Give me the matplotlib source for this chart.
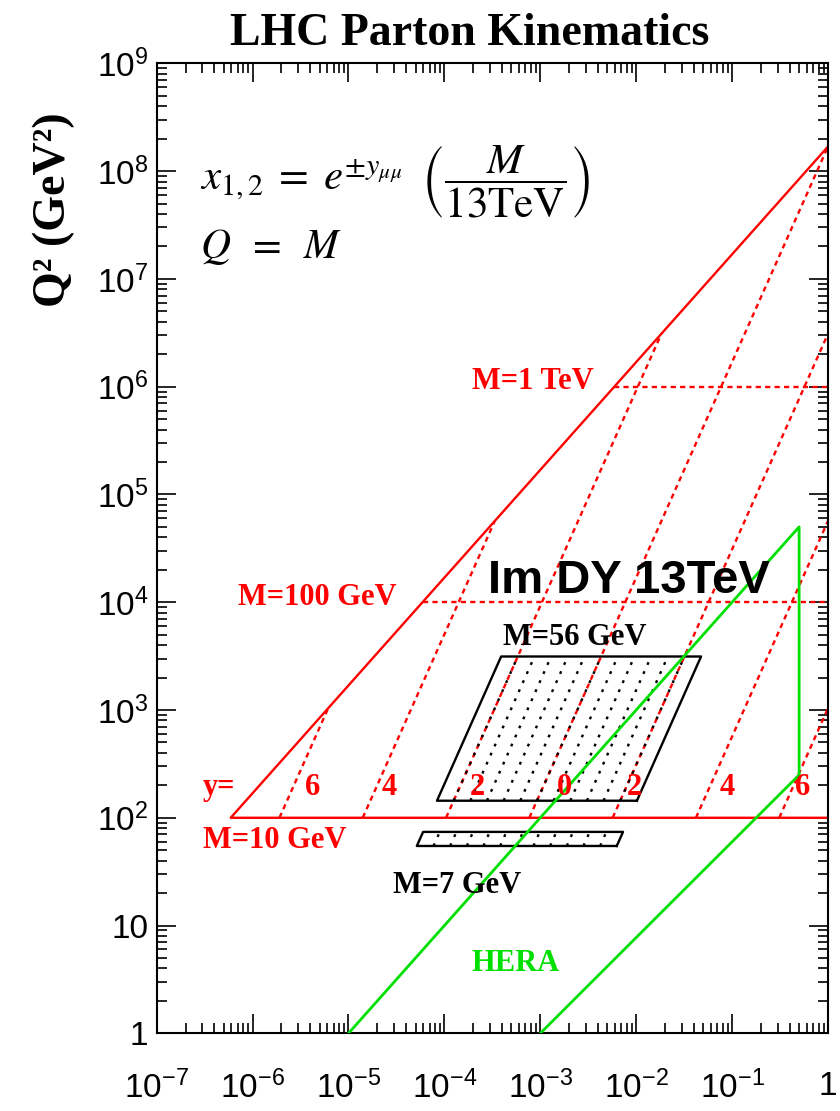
import numpy as np
import matplotlib
matplotlib.use("Agg")
import matplotlib.pyplot as plt
from matplotlib.ticker import FixedLocator, LogLocator, NullFormatter

# collider energy (GeV) and the mass cuts of the red grid
sqrt_s = 13000.0
mass_min = 10.0
mass_lines = [100.0, 1000.0]
mass_labels = ["M=100 GeV", "M=1 TeV"]
rapidities = [6, 4, 2, 0, -2, -4, -6]

# Drell-Yan boxes: mass range and rapidity bin edges
box56_mass = [12.0, 56.0]
box7_mass = [7.4, 8.6]
box_y_edges = [-2.4, -2.0, -1.6, -1.2, -0.8, -0.4, 0.0, 0.4, 0.8, 1.2, 1.6, 2.0, 2.4]

# HERA kinematic region
hera_x = [1e-5, 0.5, 0.5, 1e-3]
hera_q2 = [1.0, 5e4, 250.0, 1.0]

x_ticks = [1e-7, 1e-6, 1e-5, 1e-4, 1e-3, 1e-2, 1e-1, 1.0]
x_tick_labels = [r"$10^{-7}$", r"$10^{-6}$", r"$10^{-5}$", r"$10^{-4}$",
                 r"$10^{-3}$", r"$10^{-2}$", r"$10^{-1}$", "1"]
y_ticks = [1.0, 1e1, 1e2, 1e3, 1e4, 1e5, 1e6, 1e7, 1e8, 1e9]
y_tick_labels = ["1", "10", r"$10^{2}$", r"$10^{3}$", r"$10^{4}$", r"$10^{5}$",
                 r"$10^{6}$", r"$10^{7}$", r"$10^{8}$", r"$10^{9}$"]

RED = "#ff0000"
GREEN = "#00e000"

plt.rcParams["mathtext.fontset"] = "custom"
plt.rcParams["mathtext.rm"] = "Liberation Sans"
plt.rcParams["mathtext.it"] = "Liberation Sans:italic"
plt.rcParams["mathtext.default"] = "it"
plt.rcParams["font.family"] = "Liberation Sans"


def x_of(m, y):
    return m / sqrt_s * np.exp(-y)


def draw_box(ax, masses, edges):
    m_lo, m_hi = masses
    xs = [x_of(m_lo, edges[0]), x_of(m_lo, edges[-1]),
          x_of(m_hi, edges[-1]), x_of(m_hi, edges[0]), x_of(m_lo, edges[0])]
    qs = [m_lo ** 2, m_lo ** 2, m_hi ** 2, m_hi ** 2, m_lo ** 2]
    ax.plot(xs, qs, color="black", lw=1.7, zorder=3)
    for y in edges[1:-1]:
        ax.plot([x_of(m_lo, y), x_of(m_hi, y)], [m_lo ** 2, m_hi ** 2],
                color="black", lw=1.7, ls=(0, (1.2, 3.0)), zorder=3)


fig = plt.figure(figsize=(8.4, 11.11), dpi=100)
ax = fig.add_axes([0.1865, 0.0699, 0.7992, 0.8731])
ax.set_xscale("log")
ax.set_yscale("log")
ax.set_xlim(1e-7, 1.0)
ax.set_ylim(1.0, 1e9)

# kinematic edge: M = 10 GeV and x1 = 1
s = sqrt_s ** 2
x_edge = mass_min ** 2 / s
ax.plot([1.0, x_edge, 1.0], [s, mass_min ** 2, mass_min ** 2], color=RED, lw=1.7, zorder=2)

# constant mass lines
for m in mass_lines:
    ax.plot([m ** 2 / s, 1.0], [m ** 2, m ** 2], color=RED, lw=1.7,
            ls=(0, (2.2, 1.8)), zorder=2)

# constant rapidity lines
for y in rapidities:
    m_hi = sqrt_s * np.exp(-abs(y))
    ax.plot([x_of(mass_min, y), x_of(m_hi, y)], [mass_min ** 2, m_hi ** 2],
            color=RED, lw=1.7, ls=(0, (2.2, 1.8)), zorder=2)

draw_box(ax, box56_mass, box_y_edges)
draw_box(ax, box7_mass, box_y_edges)

ax.plot(hera_x, hera_q2, color=GREEN, lw=2.0, zorder=4)

# ticks
ax.xaxis.set_major_locator(FixedLocator(x_ticks))
ax.yaxis.set_major_locator(FixedLocator(y_ticks))
ax.xaxis.set_minor_locator(LogLocator(base=10, subs=np.arange(2, 10), numticks=100))
ax.yaxis.set_minor_locator(LogLocator(base=10, subs=np.arange(2, 10), numticks=100))
ax.xaxis.set_minor_formatter(NullFormatter())
ax.yaxis.set_minor_formatter(NullFormatter())
ax.set_xticklabels(x_tick_labels)
ax.set_yticklabels(y_tick_labels)
ax.tick_params(which="both", direction="in", top=True, right=True, width=1.2)
ax.tick_params(which="major", length=13.5, labelsize=24)
ax.tick_params(which="minor", length=7)
ax.tick_params(axis="x", which="major", pad=27)
ax.tick_params(axis="y", which="major", pad=6)
for sp in ax.spines.values():
    sp.set_linewidth(1.5)

# labels on the plot
serif = dict(family="Liberation Serif", fontweight="bold", fontsize=22, va="baseline", ha="left",
             transform=ax.transAxes, zorder=5)
ax.text(0.4697, 0.6642, mass_labels[1], color=RED, **serif)
ax.text(0.1211, 0.4415, mass_labels[0], color=RED, **serif)
ax.text(0.0690, 0.1910, "M=10 GeV", color=RED, **serif)
ax.text(0.0690, 0.2457, "y=", color=RED, **serif)
for xf, lab in zip([0.2209, 0.3357, 0.4667, 0.5963, 0.7006, 0.8392, 0.9513],
                   rapidities):
    ax.text(xf, 0.2457, str(abs(lab)), color=RED, **serif)
ax.text(0.5160, 0.4003, "M=56 GeV", color="black", **serif)
ax.text(0.3520, 0.1447, "M=7 GeV", color="black", **serif)
ax.text(0.4697, 0.0642, "HERA", color=GREEN, **serif)

ax.text(0.4935, 0.4539, "Im DY 13TeV", family="Liberation Sans", fontweight="bold",
        fontsize=34, va="baseline", ha="left", transform=ax.transAxes, zorder=5)

ax.text(0.0645, 0.878,
        r"$x_{1,2}\;=\;e^{\pm y_{\mu\mu}}\;\;\left(\dfrac{M}{13\mathrm{TeV}}\right)$",
        math_fontfamily="stix", fontsize=31, va="center", ha="left", transform=ax.transAxes)
ax.text(0.0645, 0.799, r"$Q\;\;=\;\;M$", math_fontfamily="stix", fontsize=30,
        va="baseline", ha="left", transform=ax.transAxes)

fig.text(0.5595, 0.9595, "LHC Parton Kinematics", family="Liberation Serif",
         fontweight="bold", fontsize=33, ha="center", va="baseline")
fig.text(0.064, 0.811, "Q² (GeV²)", family="Liberation Serif", fontweight="bold",
         fontsize=33, rotation=90, ha="center", va="center")

fig.savefig("out.png", dpi=100)
